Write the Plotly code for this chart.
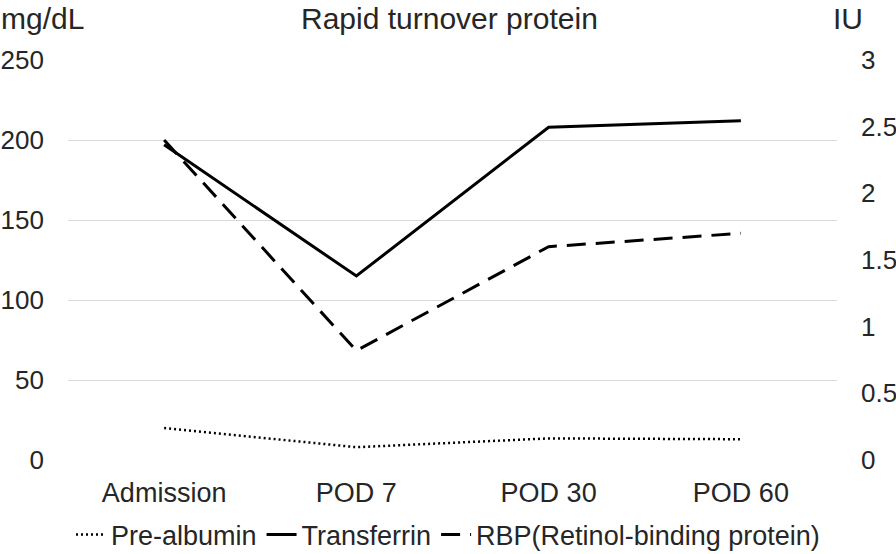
import plotly.graph_objects as go

categories = ["Admission", "POD 7", "POD 30", "POD 60"]
pre_albumin = [20, 8, 13.5, 13]
transferrin = [197, 115, 208, 212]
rbp = [2.4, 0.82, 1.6, 1.7]
left_ticks = [0, 50, 100, 150, 200, 250]
right_ticks = [0, 0.5, 1, 1.5, 2, 2.5, 3]

FONT = "Liberation Sans, Arial, sans-serif"
TXT = "#262626"
FS = 27

fig = go.Figure()
fig.add_trace(go.Scatter(x=categories, y=pre_albumin, name="Pre-albumin", mode="lines",
                         line=dict(color="black", width=2.5, dash="2px,3px")))
fig.add_trace(go.Scatter(x=categories, y=transferrin, name="Transferrin", mode="lines",
                         line=dict(color="black", width=3)))
fig.add_trace(go.Scatter(x=categories, y=rbp, name="RBP(Retinol-binding protein)", mode="lines",
                         yaxis="y2", line=dict(color="black", width=3, dash="19px,10px")))

L, R, T, B = 68, 59, 60, 94
W, H = 896, 554
plot_w = W - L - R
plot_h = H - T - B

def py(ypix):
    return (H - B - ypix) / plot_h

def px(xpix):
    return (xpix - L) / plot_w

fig.update_layout(
    width=W, height=H,
    margin=dict(l=L, r=R, t=T, b=B, autoexpand=False),
    plot_bgcolor="white", paper_bgcolor="white",
    font=dict(family=FONT, size=FS, color=TXT),
    showlegend=True,
    legend=dict(orientation="h", x=0.5, xanchor="center", xref="container",
                y=(H - 535) / H, yanchor="middle", yref="container",
                font=dict(size=FS, color=TXT), itemwidth=30),
    xaxis=dict(type="category", range=[-0.5, 3.5], showgrid=False, showline=False,
               ticks="", tickfont=dict(size=FS, color=TXT), ticklabelstandoff=14),
    yaxis=dict(range=[0, 250], tickvals=left_ticks, showgrid=True, gridcolor="#d9d9d9",
               gridwidth=1, zeroline=False, showline=False, ticks="",
               tickfont=dict(size=26, color=TXT), ticklabelstandoff=23),
    yaxis2=dict(range=[0, 3], tickvals=right_ticks, overlaying="y", side="right",
                showgrid=False, zeroline=False, showline=False, ticks="",
                tickfont=dict(size=26, color=TXT), ticklabelstandoff=23),
)
fig.add_annotation(text="Rapid turnover protein", x=px(449), xref="paper", y=py(18), yref="paper",
                   showarrow=False, font=dict(size=30, color=TXT), yanchor="middle")
fig.add_annotation(text="mg/dL", x=px(1), xref="paper", xanchor="left", y=py(18), yref="paper",
                   showarrow=False, font=dict(size=30, color=TXT), yanchor="middle",
                   xshift=-2)
fig.add_annotation(text="IU", x=px(833), xref="paper", xanchor="left", y=py(18), yref="paper",
                   showarrow=False, font=dict(size=30, color=TXT), yanchor="middle",
                   xshift=-2)

fig.write_html("out.html", config={"displayModeBar": False},
               post_script="document.body.style.margin='0';document.body.style.overflow='hidden';")
